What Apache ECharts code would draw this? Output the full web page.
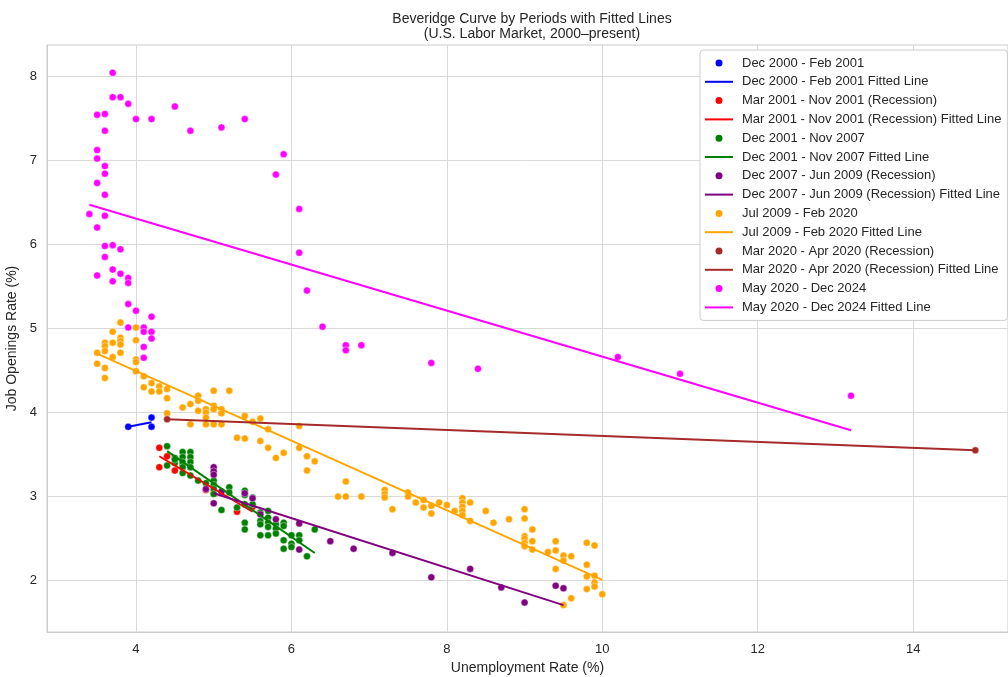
<!DOCTYPE html>
<html>
<head>
<meta charset="utf-8">
<script src="https://cdn.jsdelivr.net/npm/echarts@6/dist/echarts.min.js"></script>
<style>
html,body{margin:0;padding:0;background:#fff;}
#chart{width:1008px;height:677px;}
</style>
</head>
<body>
<div id="chart"></div>
<script>
// ---- Data ----
const xTicks = [4, 6, 8, 10, 12, 14];
const yTicks = [2, 3, 4, 5, 6, 7, 8];

const periodNames = [
  'Dec 2000 - Feb 2001',
  'Mar 2001 - Nov 2001 (Recession)',
  'Dec 2001 - Nov 2007',
  'Dec 2007 - Jun 2009 (Recession)',
  'Jul 2009 - Feb 2020',
  'Mar 2020 - Apr 2020 (Recession)',
  'May 2020 - Dec 2024'
];

const ptsDec2000 = [[3.9,3.83],[4.2,3.94],[4.2,3.83]];
const fitDec2000 = [[3.9,3.83],[4.2,3.885]];

const ptsMar2001 = [[4.3,3.58],[4.4,3.48],[4.3,3.35],[4.5,3.31],[4.6,3.38],[4.9,3.08],[5.0,3.04],[5.3,2.82],[5.5,2.88]];
const fitMar2001 = [[4.3,3.48],[5.5,2.82]];

const ptsDec2001 = [
  [4.4,3.60],[4.4,3.37],
  [4.5,3.46],[4.5,3.40],[4.5,3.44],
  [4.6,3.53],[4.6,3.47],[4.6,3.41],[4.6,3.35],[4.6,3.28],
  [4.7,3.53],[4.7,3.47],[4.7,3.41],[4.7,3.35],[4.7,3.25],
  [4.8,3.19],[4.9,3.16],
  [5.0,3.19],[5.0,3.14],[5.0,3.09],[5.0,3.03],
  [5.1,2.84],[5.2,3.11],[5.2,3.05],[5.3,2.87],
  [5.4,3.07],[5.4,3.02],[5.4,2.91],[5.4,2.69],[5.4,2.61],
  [5.5,2.99],[5.5,2.91],
  [5.6,2.81],[5.6,2.71],[5.6,2.67],[5.6,2.54],
  [5.7,2.83],[5.7,2.75],[5.7,2.69],[5.7,2.64],[5.7,2.54],
  [5.8,2.67],[5.8,2.62],[5.8,2.56],
  [5.9,2.69],[5.9,2.65],[5.9,2.48],[5.9,2.38],
  [6.0,2.54],[6.0,2.44],[6.0,2.40],
  [6.1,2.54],[6.1,2.48],[6.2,2.29],[6.3,2.61]
];
const fitDec2001 = [[4.4,3.54],[6.3,2.33]];

const ptsDec2007 = [
  [5.0,3.35],[5.0,3.30],[5.0,3.26],[4.9,3.09],[5.1,3.06],[5.0,2.92],
  [5.4,3.04],[5.5,2.98],[5.6,2.79],[5.8,2.73],[6.1,2.68],[6.1,2.37],
  [6.5,2.47],[6.8,2.38],[7.3,2.33],[7.8,2.04],[8.3,2.14],[8.7,1.92],
  [9.0,1.74],[9.4,1.94],[9.5,1.91]
];
const fitDec2007 = [[5.0,3.04],[9.5,1.71]];

const ptsJul2009 = [
  [3.5,4.71],[3.5,4.58],
  [3.6,4.83],[3.6,4.79],[3.6,4.73],[3.6,4.53],[3.6,4.41],
  [3.7,4.96],[3.7,4.83],[3.7,4.66],
  [3.8,5.07],[3.8,4.89],[3.8,4.85],[3.8,4.81],[3.8,4.71],
  [4.0,5.01],[4.0,4.86],[4.0,4.63],[4.0,4.60],[4.0,4.49],
  [4.1,4.43],[4.1,4.30],[4.2,4.35],[4.2,4.25],[4.3,4.31],[4.3,4.25],
  [4.4,4.28],[4.4,4.17],[4.4,3.99],
  [4.6,4.06],[4.7,4.10],[4.7,3.86],
  [4.8,4.20],[4.8,4.14],[4.8,4.02],
  [4.9,4.04],[4.9,4.00],[4.9,3.94],[4.9,3.86],
  [5.0,4.26],[5.0,4.08],[5.0,4.04],[5.0,3.86],
  [5.1,4.04],[5.1,3.99],[5.1,3.86],
  [5.2,4.26],[5.3,3.70],[5.4,3.96],[5.4,3.69],[5.5,3.89],
  [5.6,3.93],[5.6,3.66],[5.7,3.80],[5.7,3.58],[5.8,3.46],[5.9,3.52],
  [6.1,3.84],[6.1,3.58],[6.2,3.48],[6.2,3.31],[6.3,3.42],
  [6.6,3.00],[6.7,3.18],[6.7,3.00],[6.9,3.00],
  [7.2,3.08],[7.2,3.03],[7.2,2.99],[7.3,2.85],
  [7.5,3.05],[7.5,3.00],[7.6,2.93],[7.7,2.96],[7.7,2.87],
  [7.8,2.89],[7.8,2.80],[7.9,2.93],[8.0,2.90],[8.1,2.83],
  [8.2,2.98],[8.2,2.93],[8.2,2.88],[8.2,2.83],[8.2,2.78],
  [8.3,2.93],[8.3,2.71],[8.5,2.83],[8.6,2.69],[8.8,2.73],
  [9.0,2.85],[9.0,2.74],[9.0,2.53],[9.0,2.50],[9.0,2.45],[9.0,2.41],
  [9.1,2.61],[9.1,2.47],[9.1,2.37],[9.3,2.34],
  [9.4,2.47],[9.4,2.36],[9.4,2.14],
  [9.5,2.30],[9.5,2.24],[9.5,1.71],
  [9.6,2.29],[9.6,1.79],
  [9.8,2.45],[9.8,2.19],[9.8,2.05],[9.8,1.90],
  [9.9,2.42],[9.9,2.06],[9.9,1.98],[9.9,1.93],
  [10.0,1.84]
];
const fitJul2009 = [[3.5,4.70],[10.0,2.01]];

const ptsMar2020 = [[4.4,3.92],[14.8,3.55]];
const fitMar2020 = [[4.4,3.92],[14.8,3.55]];

const ptsMay2020 = [
  [3.7,8.04],[3.7,7.75],[3.8,7.75],[3.9,7.67],[3.5,7.54],[3.6,7.55],
  [4.0,7.49],[4.2,7.49],[4.5,7.64],[3.6,7.35],[4.7,7.35],[5.1,7.39],[5.4,7.49],
  [3.5,7.12],[3.5,7.02],[3.6,6.93],[3.6,6.84],[3.5,6.73],[3.6,6.59],
  [3.4,6.36],[3.6,6.34],[3.5,6.20],
  [3.6,5.98],[3.7,5.99],[3.8,5.94],[3.6,5.85],
  [3.5,5.63],[3.7,5.70],[3.8,5.65],[3.7,5.56],[3.9,5.60],[3.9,5.54],
  [3.9,5.29],[4.0,5.21],[4.2,5.14],[3.9,5.01],[4.1,5.01],[4.1,4.96],
  [4.2,4.96],[4.2,4.88],[4.1,4.78],[4.1,4.65],
  [5.9,7.07],[5.8,6.83],[6.1,6.42],[6.1,5.90],[6.2,5.45],[6.4,5.02],
  [6.7,4.80],[6.7,4.74],[6.9,4.80],[7.8,4.59],[8.4,4.52],
  [10.2,4.66],[11.0,4.46],[13.2,4.20]
];
const fitMay2020 = [[3.4,6.47],[13.2,3.79]];

const periodPoints = [ptsDec2000, ptsMar2001, ptsDec2001, ptsDec2007, ptsJul2009, ptsMar2020, ptsMay2020];
const periodFits = [fitDec2000, fitMar2001, fitDec2001, fitDec2007, fitJul2009, fitMar2020, fitMay2020];

// ---- Styles ----
const colors = ['#0000ff', '#ff0000', '#008000', '#800080', '#ffa500', '#a52a2a', '#ff00ff'];
const FONT = '"Liberation Sans", Arial, sans-serif';
const TXT = '#262626';

const series = [];
const legendData = [];
periodNames.forEach((name, i) => {
  series.push({
    name: name,
    type: 'scatter',
    data: periodPoints[i],
    symbolSize: 7,
    itemStyle: { color: colors[i], borderColor: '#ffffff', borderWidth: 0.4, opacity: 1 },
    emphasis: { disabled: true }
  });
  const lineName = name + ' Fitted Line';
  series.push({
    name: lineName,
    type: 'line',
    data: periodFits[i],
    showSymbol: false,
    symbol: 'none',
    lineStyle: { color: colors[i], width: 2 },
    itemStyle: { color: colors[i] },
    emphasis: { disabled: true }
  });
  legendData.push({ name: name, icon: 'circle', itemStyle: { color: colors[i] } });
  legendData.push({ name: lineName, icon: 'path://M0,0H28V2H0Z', itemStyle: { color: colors[i] } });
});

const chart = echarts.init(document.getElementById('chart'), null, { renderer: 'canvas' });
chart.setOption({
  animation: false,
  backgroundColor: '#ffffff',
  textStyle: { fontFamily: FONT },
  title: {
    text: 'Beveridge Curve by Periods with Fitted Lines\n(U.S. Labor Market, 2000\u2013present)',
    left: 527,
    top: 6,
    textAlign: 'center',
    textStyle: { fontSize: 14, fontWeight: 'normal', color: TXT, lineHeight: 15.5, fontFamily: FONT }
  },
  grid: { left: 47, top: 45, right: 0, bottom: 45, show: true, borderColor: '#cccccc', borderWidth: 1, containLabel: false, outerBoundsMode: 'none' },
  xAxis: {
    type: 'value',
    min: 2.855,
    max: 15.22,
    name: 'Unemployment Rate (%)',
    nameLocation: 'middle',
    nameGap: 29,
    nameTextStyle: { fontSize: 14, color: TXT, fontFamily: FONT },
    axisLine: { show: true, lineStyle: { color: '#cccccc', width: 1 } },
    axisTick: { show: false, customValues: xTicks },
    axisLabel: { customValues: xTicks, fontSize: 13, color: TXT, margin: 11, fontFamily: FONT },
    splitLine: { show: true, lineStyle: { color: '#d9d9d9', width: 1 } }
  },
  yAxis: {
    type: 'value',
    min: 1.39,
    max: 8.37,
    name: 'Job Openings Rate (%)',
    nameLocation: 'middle',
    nameGap: 25,
    nameTextStyle: { fontSize: 14, color: TXT, fontFamily: FONT },
    axisLine: { show: true, lineStyle: { color: '#cccccc', width: 1 } },
    axisTick: { show: false, customValues: yTicks },
    axisLabel: { customValues: yTicks, fontSize: 13, color: TXT, margin: 10, fontFamily: FONT },
    splitLine: { show: true, lineStyle: { color: '#d9d9d9', width: 1 } }
  },
  legend: {
    orient: 'vertical',
    left: 700,
    top: 50,
    data: legendData,
    itemWidth: 28,
    itemHeight: 9,
    itemGap: 4.8,
    padding: [6, 6, 6, 5],
    backgroundColor: '#ffffff',
    borderColor: '#cccccc',
    borderWidth: 1,
    borderRadius: 3,
    selectedMode: false,
    textStyle: { fontSize: 13, color: TXT, lineHeight: 14, fontFamily: FONT, padding: [0, 0, 0, 4] }
  },
  series: series
});
</script>
</body>
</html>
